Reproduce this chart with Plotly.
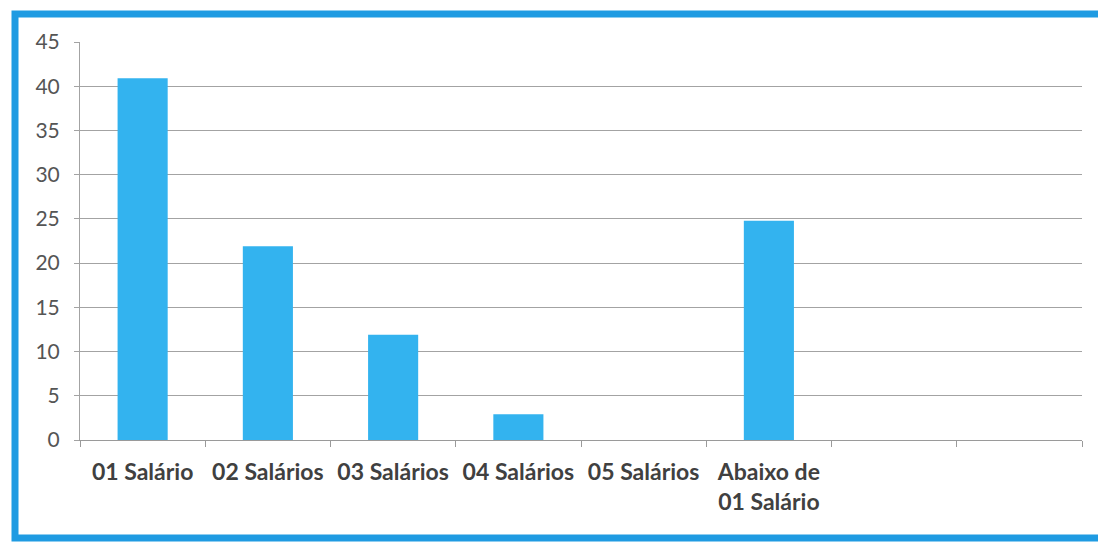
import plotly.graph_objects as go

categories = ["01 Salário", "02 Salários", "03 Salários", "04 Salários",
              "05 Salários", "Abaixo de<br>01 Salário", " ", "  "]
values = [40.9, 21.9, 11.9, 2.9, 0, 24.8, None, None]
y_ticks = [0, 5, 10, 15, 20, 25, 30, 35, 40, 45]

OFF = 8  # page body margin
W, H = 1106 - OFF, 549 - OFF
L, R, T, B = 80 - OFF, 24, 42 - OFF, 109
pw, ph = W - L - R, H - T - B

def px_x(x):
    return (x - OFF - L) / pw

def px_y(y):
    return (H - B - (y - OFF)) / ph

fig = go.Figure()
fig.add_trace(go.Bar(
    x=categories, y=values,
    marker=dict(color="#33b3ef", line=dict(width=0)),
    width=0.4,
))

fig.update_layout(
    width=W, height=H,
    margin=dict(l=L, r=R, t=T, b=B, autoexpand=False),
    paper_bgcolor="white", plot_bgcolor="white",
    showlegend=False,
    font=dict(family="Lato, 'Open Sans', sans-serif"),
    shapes=[dict(
        type="rect", xref="paper", yref="paper",
        x0=px_x(15), x1=px_x(1114), y0=px_y(14), y1=px_y(538),
        line=dict(color="#1f9be2", width=7), layer="below",
    )],
)
fig.update_xaxes(
    type="category", categoryorder="array", categoryarray=categories,
    showgrid=False, showline=True, linecolor="#9a9a9a", linewidth=1,
    ticks="outside", tickson="boundaries", ticklen=6, tickcolor="#9a9a9a",
    tickangle=0,
    tickfont=dict(size=23, color="#404040", family="Lato, sans-serif", weight="bold"),
    ticklabelstandoff=11, automargin=False,
    fixedrange=True,
)
fig.update_yaxes(
    range=[0, 45], tickvals=y_ticks, ticktext=[str(v) for v in y_ticks],
    showgrid=True, gridcolor="#a3a3a3", gridwidth=1,
    showline=True, linecolor="#a3a3a3", linewidth=1,
    ticks="outside", ticklen=5, tickcolor="#a3a3a3",
    tickfont=dict(size=21, color="#555555"),
    ticklabelstandoff=10, automargin=False,
    zeroline=False,
)

fig.write_html("out.html")
